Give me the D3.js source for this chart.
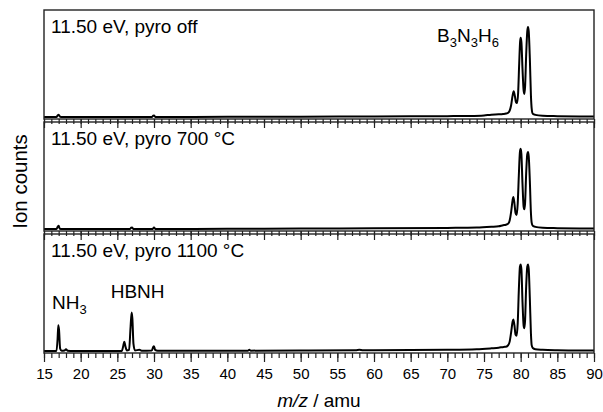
<!DOCTYPE html>
<html>
<head>
<meta charset="utf-8">
<script src="https://cdn.jsdelivr.net/npm/d3@7"></script>
<style>
body{margin:0;background:#fff;}
text{font-family:"Liberation Sans",Arial,Helvetica,sans-serif;fill:#000;}
</style>
</head>
<body>
<svg id="chart"></svg>
<script>
var w=603;
var h=412;

// x axis
var xDomain=[15,90];
var majorTicks=[15,20,25,30,35,40,45,50,55,60,65,70,75,80,85,90];

// panel titles
var panelLabels=["11.50 eV, pyro off","11.50 eV, pyro 700 °C","11.50 eV, pyro 1100 °C"];

// spectra, [m/z, ion counts (arb.)]
var pyroOff=[[15,0],[16.7,0],[16.9,1.8],[17.0,2],[17.2,0.2],[17.5,0],[29.7,0],[29.9,1.2],[30.0,1.4],[30.2,0],
  [40,0.2],[50,0.3],[60,0.5],[65,0.6],[70,0.8],[73,1],[75,1.5],[76,2.2],[77,2.5],[77.6,2.8],[78.0,3.2],[78.3,4],
  [78.5,6],[78.7,11],[78.9,20],[79.05,24],[79.2,20],[79.35,14],[79.5,13],[79.65,22],[79.8,50],[79.92,70],[80.0,74],
  [80.1,70],[80.25,45],[80.4,25],[80.5,21.5],[80.6,28],[80.75,58],[80.9,80],[81.0,84],[81.1,80],[81.25,55],[81.4,20],
  [81.5,8],[81.65,3],[82,2],[83,1.2],[85,0.8],[88,0.5],[90,0.4]];

var pyro700=[[15,0],[16.7,0],[16.9,2.5],[17.0,3],[17.15,0.3],[17.5,0],[26.7,0],[26.9,1.2],[27.0,1.5],[27.2,0],
  [29.8,0],[30.0,1.5],[30.2,0],[40,0.2],[50,0.4],[60,0.6],[70,1],[74,1.3],[76,2],[77,2.5],[77.6,3.5],[78.0,4],
  [78.3,5],[78.5,8],[78.7,16],[78.9,27],[79.0,30],[79.15,24],[79.3,15],[79.45,13],[79.6,24],[79.75,50],[79.9,72],
  [80.0,75],[80.1,70],[80.25,42],[80.4,21],[80.5,18.5],[80.6,24],[80.75,52],[80.9,70],[81.0,72],[81.1,68],[81.25,45],
  [81.4,15],[81.5,6],[81.65,3],[82,2],[83,1.2],[85,0.8],[88,0.5],[90,0.4]];

var pyro1100=[[15,0],[16.7,0],[16.85,10],[16.95,22],[17.05,18],[17.2,2],[17.4,0.3],[17.8,0.5],[18.0,1.5],[18.2,0.3],
  [19,0],[25.6,0],[25.8,4],[25.95,8],[26.1,4],[26.3,0.5],[26.6,1],[26.8,20],[26.95,33],[27.05,28],[27.2,6],[27.4,0.5],
  [28,1],[28.3,0.3],[29.7,0.5],[29.9,3.5],[30.0,4],[30.15,1],[30.5,0.2],[42.8,0.3],[43.0,1],[43.2,0.3],[50,0.5],
  [57.5,0.6],[58,1],[58.5,0.6],[60,0.6],[70,1],[74,1.5],[76,2.3],[77,2.8],[77.7,3.5],[78.0,3.6],[78.3,5],[78.5,8],
  [78.7,16],[78.9,25],[79.0,27],[79.15,22],[79.3,14],[79.45,13],[79.6,24],[79.75,52],[79.9,72],[80.0,74],[80.1,70],
  [80.25,42],[80.4,22],[80.5,19.5],[80.6,26],[80.75,55],[80.9,72],[81.0,74],[81.1,70],[81.25,45],[81.4,15],[81.5,5],
  [81.65,2.5],[82,1.5],[83,1],[85,0.6],[88,0.4],[90,0.4]];

var spectra=[pyroOff,pyro700,pyro1100];

var margin={left:44,right:9};
var panels=[{top:10,bottom:119},{top:122,bottom:231},{top:234,bottom:353}];

var xScale=d3.scaleLinear()
             .domain(xDomain)
             .range([margin.left,w-margin.right]);

var svg=d3.select("#chart")
          .attr("width",w)
          .attr("height",h);

var line=d3.line().curve(d3.curveMonotoneX);

panels.forEach(function(p,i){
  var yScale=d3.scaleLinear()
               .domain([0,100])
               .range([p.bottom-2,p.top]);

  svg.append("clipPath")
     .attr("id","clip"+i)
     .append("rect")
     .attr("x",xScale(xDomain[0]))
     .attr("y",p.top)
     .attr("width",xScale(xDomain[1])-xScale(xDomain[0]))
     .attr("height",p.bottom-p.top);

  svg.append("path")
     .datum(spectra[i])
     .attr("clip-path","url(#clip"+i+")")
     .attr("fill","none")
     .attr("stroke","#000")
     .attr("stroke-width",2)
     .attr("stroke-linejoin","round")
     .attr("d",line.x(function(d){return xScale(d[0]);})
                   .y(function(d){return yScale(d[1]);}));

  // bottom axis, minor and major ticks
  var minor=svg.append("g")
     .attr("transform","translate(0,"+p.bottom+")")
     .call(d3.axisBottom(xScale).tickValues(d3.range(15,91,1)).tickSize(5).tickFormat(""));
  var major=svg.append("g")
     .attr("transform","translate(0,"+p.bottom+")")
     .call(d3.axisBottom(xScale).tickValues(majorTicks).tickSize(9).tickPadding(6)
             .tickFormat(i==2?d3.format("d"):""));
  [minor,major].forEach(function(g){
    g.select(".domain").remove();
    g.selectAll("line").attr("stroke","#222").attr("stroke-width",1.2);
    g.selectAll("text").attr("font-size",15).attr("fill","#000")
     .style("font-family","'Liberation Sans',Arial,sans-serif");
  });

  svg.append("rect")
     .attr("x",xScale(xDomain[0]))
     .attr("y",p.top)
     .attr("width",xScale(xDomain[1])-xScale(xDomain[0]))
     .attr("height",p.bottom-p.top)
     .attr("fill","none")
     .attr("stroke","#222")
     .attr("stroke-width",1.4);

  svg.append("text")
     .attr("x",xScale(xDomain[0])+7)
     .attr("y",p.top+23)
     .attr("font-size",19)
     .text(panelLabels[i]);
});

// species annotations
var ann1=svg.append("text")
   .attr("x",xScale(68.6))
   .attr("y",42)
   .attr("font-size",19);
ann1.append("tspan").text("B");
ann1.append("tspan").attr("font-size",13).attr("dy",5).text("3");
ann1.append("tspan").attr("dy",-5).text("N");
ann1.append("tspan").attr("font-size",13).attr("dy",5).text("3");
ann1.append("tspan").attr("dy",-5).text("H");
ann1.append("tspan").attr("font-size",13).attr("dy",5).text("6");

var ann2=svg.append("text")
   .attr("x",xScale(16.1))
   .attr("y",309)
   .attr("font-size",19);
ann2.append("tspan").text("NH");
ann2.append("tspan").attr("font-size",13).attr("dy",5).text("3");

svg.append("text")
   .attr("x",xScale(24.1))
   .attr("y",298)
   .attr("font-size",19)
   .text("HBNH");

// axis titles
var xt=svg.append("text")
   .attr("x",(xScale(xDomain[0])+xScale(xDomain[1]))/2)
   .attr("y",407)
   .attr("text-anchor","middle")
   .attr("font-size",19);
xt.append("tspan").attr("font-style","italic").text("m/z");
xt.append("tspan").text(" / amu");

svg.append("text")
   .attr("transform","translate(27,"+((panels[0].top+panels[2].bottom)/2)+") rotate(-90)")
   .attr("text-anchor","middle")
   .attr("font-size",20.5)
   .text("Ion counts");
</script>
</body>
</html>
